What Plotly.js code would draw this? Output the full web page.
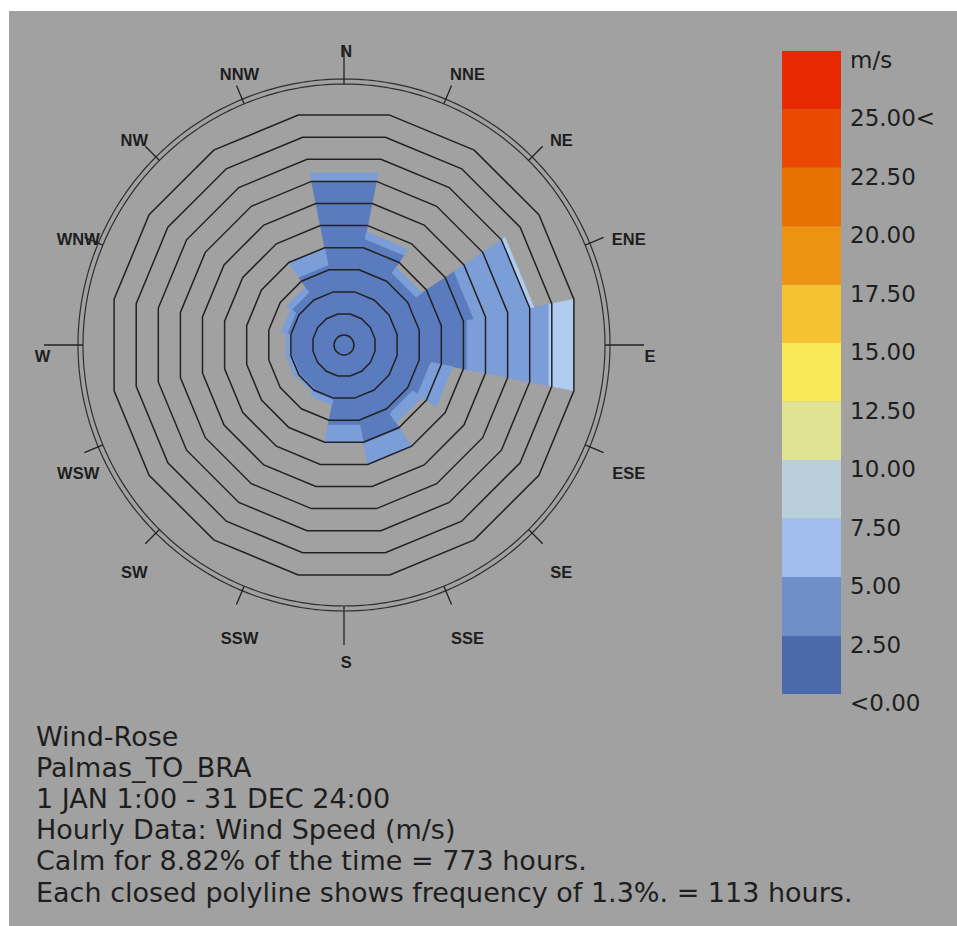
<!DOCTYPE html>
<html><head><meta charset="utf-8">
<script src="https://cdn.plot.ly/plotly-3.0.1.min.js"></script>
<style>html,body{margin:0;padding:0;background:#fff;}#chart{width:957px;height:926px;}</style>
</head><body><div id="chart"></div>
<script>
// ---------------- data ----------------
const directions = ['N','NNE','NE','ENE','E','ESE','SE','SSE','S','SSW','SW','WSW','W','WNW','NW','NNW'];
const directionAngles = [0,22.5,45,67.5,90,112.5,135,157.5,180,202.5,225,247.5,270,292.5,315,337.5];
const speedBinNames = ['0.00-2.50 m/s','2.50-5.00 m/s','5.00-7.50 m/s'];
// frequency (% of hours) per direction for each speed bin
const freqBin0 = [9.12,5.71,4.47,7.12,6.71,4.59,4.24,5.29,4.18,2.71,2.53,2.53,2.59,2.82,3.12,4.18];
const freqBin1 = [0.47,0.41,0.41,3.29,4.82,1.29,0.65,1.24,1.06,0.29,0.24,0.35,0.29,0.35,0.35,1.00];
const freqBin2 = [0,0,0,0.24,1.41,0,0,0,0,0,0,0,0,0,0,0];
const binColors = ['#5a7bbd','#7b9ed9','#b0ccf1'];
const calmPercent = 8.82;
const ringPercents = [1.3,2.6,3.9,5.2,6.5,7.8,9.1,10.4,11.7,13.0];
const legendLower = [0,2.5,5,7.5,10,12.5,15,17.5,20,22.5,25];
const legendColors = ['#4a6aac','#6f8fc8','#a0bdee','#b9d0dc','#e0e394','#f8e95a','#f5c332','#ee9214','#e87000','#e94a00','#e82800'];
const legendTickVals = [0,2.5,5,7.5,10,12.5,15,17.5,20,22.5,25,27.5];
const legendTickLabels = ['<0.00','2.50','5.00','7.50','10.00','12.50','15.00','17.50','20.00','22.50','25.00<','m/s'];
const infoLines = ['Wind-Rose','Palmas_TO_BRA','1 JAN 1:00 - 31 DEC 24:00','Hourly Data: Wind Speed (m/s)','Calm for 8.82% of the time = 773 hours.','Each closed polyline shows frequency of 1.3%. = 113 hours.'];

// ---------------- geometry (layout) ----------------
const W = 957, H = 926;
const CX = 344, CY = 345;          // rose centre in px
const R_DOMAIN = 330;               // polar subplot radius px (room for labels)
const R_INNER = 261;                // inner compass circle radius px
const R_OUTER = 266;                // outer compass circle radius px
const TICK_MAJOR = 300, TICK_MINOR = 281; // tick end radius px
const PX_PER_PCT = 17.0;            // px per 1 % frequency
const CALM_PX = 8.9;                // calm circle offset px
const RMAX = R_DOMAIN / PX_PER_PCT;
const CALM = CALM_PX / PX_PER_PCT;
const HALF = 11.25;
const VK = 1 / Math.cos(HALF * Math.PI / 180); // apothem -> vertex radius
const px = v => v / PX_PER_PCT;

const traces = [];
const noHover = {hoverinfo:'skip', showlegend:false};
// stacked sectors
const bins = [freqBin0, freqBin1, freqBin2];
const cum = directions.map(() => CALM);
bins.forEach((bin, b) => {
  const r = [], t = [];
  directions.forEach((d, i) => {
    if (!(bin[i] > 0)) return;
    const a = directionAngles[i];
    const r0 = b === 0 ? 0 : cum[i] * VK;
    const r1 = (cum[i] + bin[i]) * VK;
    cum[i] += bin[i];
    r.push(r0, r0, r1, r1, r0, null);
    t.push(a - HALF, a + HALF, a + HALF, a - HALF, a - HALF, null);
  });
  traces.push(Object.assign({type:'scatterpolar', r, theta:t, mode:'lines', fill:'toself',
    fillcolor:binColors[b], line:{color:binColors[b], width:0.6}, name:speedBinNames[b]}, noHover));
});
// frequency rings
{
  const r = [], t = [];
  ringPercents.forEach(p => {
    for (let j = 0; j <= 16; j++) { r.push((CALM + p) * VK); t.push(HALF + 22.5 * j); }
    r.push(null); t.push(null);
  });
  traces.push(Object.assign({type:'scatterpolar', r, theta:t, mode:'lines', line:{color:'#222222', width:1.5}}, noHover));
}
// calm circle
traces.push(Object.assign({type:'scatterpolar', r:[0], theta:[0], mode:'markers', name:'Calm ' + calmPercent + '%',
  marker:{size:20, color:binColors[0], line:{color:'#222222', width:1.5}}}, noHover));
// compass circles
[R_INNER, R_OUTER].forEach(rc => {
  const r = [], t = [];
  for (let a = 0; a <= 360; a += 1) { r.push(px(rc)); t.push(a); }
  traces.push(Object.assign({type:'scatterpolar', r, theta:t, mode:'lines', line:{color:'#2e2e2e', width:1.2}}, noHover));
});
// compass ticks
{
  const r = [], t = [];
  directionAngles.forEach((a, i) => {
    r.push(px(R_INNER), px(i % 4 === 0 ? TICK_MAJOR : TICK_MINOR), null);
    t.push(a, a, null);
  });
  traces.push(Object.assign({type:'scatterpolar', r, theta:t, mode:'lines', line:{color:'#222', width:1.3}}, noHover));
}
// direction labels
{
  const LR = 302;
  const r = [], t = [];
  directionAngles.forEach((a, i) => {
    const rad = a * Math.PI / 180;
    const len = directions[i].length;
    const dx = len === 3 ? 9.5 - 4 * Math.sin(rad) : (len === 2 ? 3.8 : 2.2 + 1.7 * Math.sin(rad));
    const dy = 13 - 3.5 * Math.cos(rad);
    const sx = LR * Math.sin(rad) + dx;
    const up = LR * Math.cos(rad) - dy;
    r.push(px(Math.hypot(sx, up)));
    t.push(Math.atan2(sx, up) * 180 / Math.PI);
  });
  traces.push(Object.assign({type:'scatterpolar', r, theta:t, text:directions, mode:'text',
    textposition:'middle center', textfont:{family:'Liberation Sans', size:16.5, weight:'bold', color:'#1e1e1e'}}, noHover));
}
// legend colour scale
traces.push(Object.assign({type:'bar', x:legendLower.map(() => 'scale'), y:legendLower.map(() => 2.5), base:legendLower,
  width:1, marker:{color:legendColors, line:{width:0}}, xaxis:'x', yaxis:'y'}, noHover));

const annotations = infoLines.map((txt, i) => ({
  text: txt, xref:'paper', yref:'paper', x: 34 / W, xanchor:'left',
  y: (H - (736 + 31.2 * i)) / H, yanchor:'middle', showarrow:false,
  font:{family:'DejaVu Sans', size:27, color:'#1e1e1e'}
}));

const layout = {
  width: W, height: H, margin:{l:0, r:0, t:0, b:0, pad:0},
  paper_bgcolor:'#ffffff', plot_bgcolor:'rgba(0,0,0,0)', showlegend:false,
  shapes:[{type:'rect', xref:'paper', yref:'paper', x0:9 / W, x1:1, y0:0, y1:1 - 11 / H,
    fillcolor:'#a1a1a1', line:{width:0}, layer:'below'}],
  polar:{
    domain:{x:[(CX - R_DOMAIN) / W, (CX + R_DOMAIN) / W], y:[(H - CY - R_DOMAIN) / H, (H - CY + R_DOMAIN) / H]},
    bgcolor:'rgba(0,0,0,0)',
    radialaxis:{visible:false, range:[0, RMAX]},
    angularaxis:{visible:false, type:'linear', thetaunit:'degrees', direction:'clockwise', rotation:90}
  },
  xaxis:{domain:[782 / W, 841 / W], range:[-0.5, 0.5], visible:false, fixedrange:true},
  yaxis:{domain:[(H - 694) / H, (H - 50.7) / H], range:[0, 27.5], side:'right', anchor:'x',
    tickmode:'array', tickvals:legendTickVals, ticktext:legendTickLabels, ticks:'', showgrid:false,
    zeroline:false, showline:false, ticklabelshift:9, ticklabelstandoff:8,
    tickfont:{family:'DejaVu Sans', size:23, color:'#1e1e1e'}, fixedrange:true},
  annotations
};
Plotly.newPlot('chart', traces, layout, {displayModeBar:false, staticPlot:true});
</script></body></html>
